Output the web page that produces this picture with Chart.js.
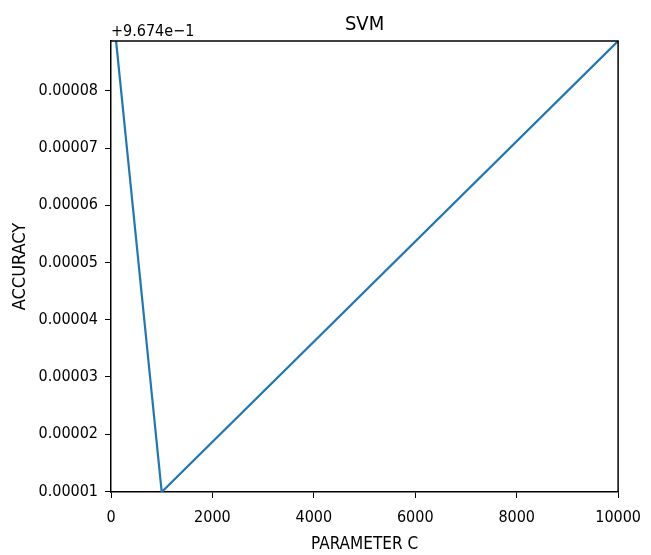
<!DOCTYPE html>
<html>
<head>
<meta charset="utf-8">
<script src="https://cdn.jsdelivr.net/npm/chart.js@4"></script>
<style>
  html, body { margin: 0; padding: 0; background: #fff; }
  canvas { display: block; }
</style>
</head>
<body>
<canvas id="svmChart" width="651" height="555"></canvas>
<script>
// C values and accuracy offsets (accuracy - 0.9674)
const paramC = [100, 1000, 10000];
const accuracyOffset = [0.0000887, 0.0000099, 0.0000887];

const xTicks = [0, 2000, 4000, 6000, 8000, 10000];
const xTickLabels = ['0', '2000', '4000', '6000', '8000', '10000'];
const yTicks = [0.00001, 0.00002, 0.00003, 0.00004, 0.00005, 0.00006, 0.00007, 0.00008];
const yTickLabels = ['0.00001', '0.00002', '0.00003', '0.00004', '0.00005', '0.00006', '0.00007', '0.00008'];

const FONT = "'DejaVu Sans Condensed', 'DejaVu Sans', sans-serif";

const frame = {
  id: 'frame',
  afterDraw(chart) {
    const { ctx, chartArea: a } = chart;
    ctx.save();
    ctx.strokeStyle = '#000';
    ctx.lineWidth = 1.5;
    ctx.beginPath();
    ctx.moveTo(a.left, a.top);
    ctx.lineTo(a.right, a.top);
    ctx.lineTo(a.right, a.bottom);
    ctx.stroke();

    ctx.fillStyle = '#000';
    ctx.textBaseline = 'alphabetic';
    ctx.font = '20px ' + FONT;
    ctx.textAlign = 'center';
    ctx.fillText('SVM', (a.left + a.right) / 2, 30);

    ctx.font = '16px ' + FONT;
    ctx.textAlign = 'left';
    ctx.fillText('+9.674e\u22121', a.left, 36);
    ctx.restore();
  }
};

new Chart(document.getElementById('svmChart'), {
  type: 'line',
  data: {
    datasets: [{
      data: paramC.map((c, i) => ({ x: c, y: accuracyOffset[i] })),
      borderColor: '#1f77b4',
      borderWidth: 2.2,
      pointRadius: 0,
      tension: 0,
      fill: false
    }]
  },
  options: {
    responsive: false,
    animation: false,
    layout: { padding: { left: 0, right: 32, top: 41, bottom: 0 } },
    plugins: { legend: { display: false }, tooltip: { enabled: false } },
    scales: {
      x: {
        type: 'linear',
        min: 0,
        max: 10000,
        afterBuildTicks: (scale) => { scale.ticks = xTicks.map(v => ({ value: v })); },
        afterFit: (scale) => { scale.height = 63; },
        ticks: {
          color: '#000',
          font: { family: FONT, size: 16 },
          padding: 10,
          maxRotation: 0,
          autoSkip: false,
          callback: (v, i) => xTickLabels[i]
        },
        grid: { drawOnChartArea: false, drawTicks: true, tickLength: 6, color: '#000', lineWidth: 1 },
        border: { display: true, color: '#000', width: 1.5 },
        title: {
          display: true,
          text: 'PARAMETER C',
          color: '#000',
          font: { family: FONT, size: 17 },
          padding: { top: 0, bottom: 0 }
        }
      },
      y: {
        type: 'linear',
        min: 0.0000099,
        max: 0.0000887,
        afterBuildTicks: (scale) => { scale.ticks = yTicks.map(v => ({ value: v })); },
        afterFit: (scale) => { scale.width = 111; },
        ticks: {
          color: '#000',
          font: { family: FONT, size: 16 },
          padding: 7,
          autoSkip: false,
          callback: (v, i) => yTickLabels[i]
        },
        grid: { drawOnChartArea: false, drawTicks: true, tickLength: 6, color: '#000', lineWidth: 1 },
        border: { display: true, color: '#000', width: 1.5 },
        title: {
          display: true,
          text: 'ACCURACY',
          color: '#000',
          font: { family: FONT, size: 18 },
          padding: { top: 10, bottom: 0 }
        }
      }
    }
  },
  plugins: [frame]
});
</script>
</body>
</html>
